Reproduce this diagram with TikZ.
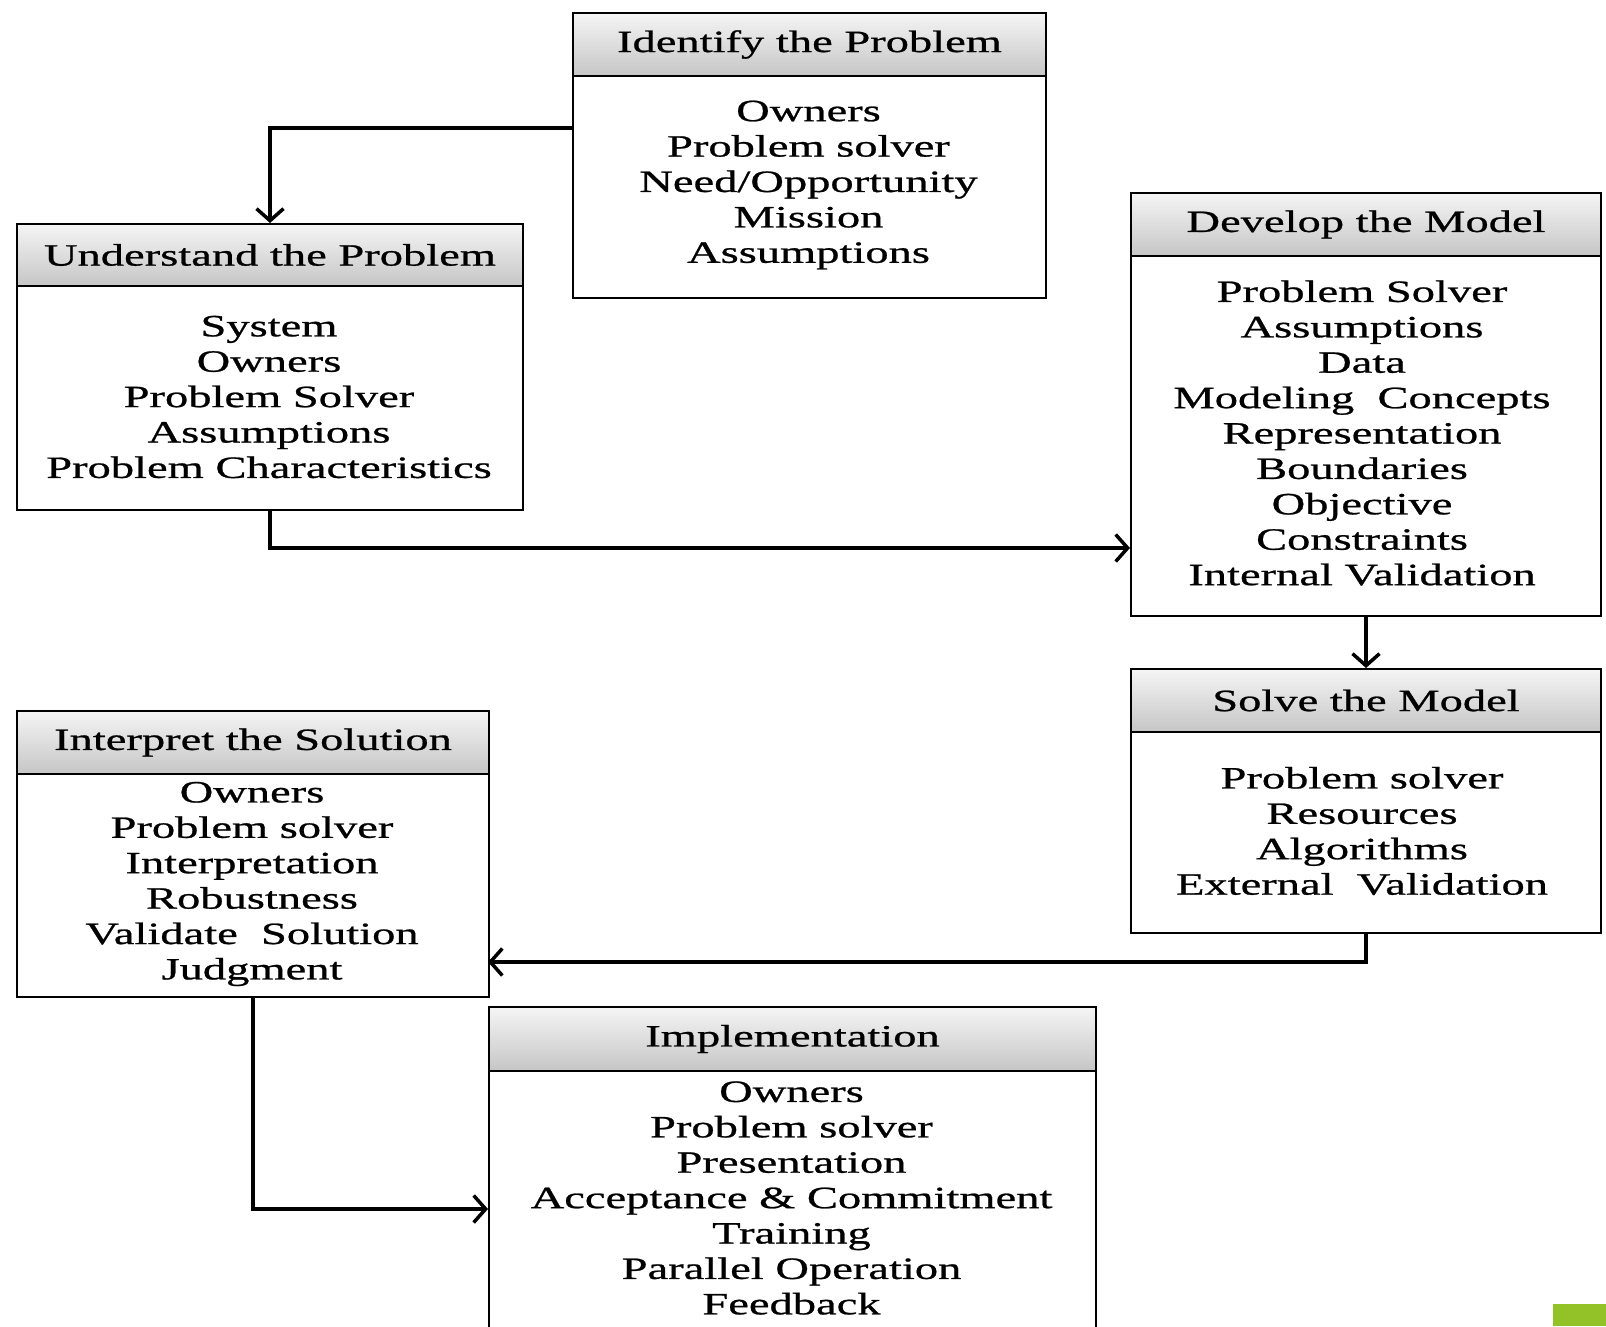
\documentclass[tikz,border=0pt]{standalone}
\usepackage{fontspec}
\setmainfont{Liberation Serif}[FakeStretch=1.5,FakeBold=0.8]
\usetikzlibrary{arrows.meta,calc}
\definecolor{accent}{RGB}{146,193,40}
\newcommand{\fsz}{\fontsize{31}{35.4}\selectfont}
\begin{document}
\begin{tikzpicture}[x=1pt,y=-1pt,
  box/.style={draw, line width=2pt, fill=white, inner sep=0pt, anchor=north west},
  hdr/.style={draw, line width=2pt, top color=gray!8, bottom color=gray!45, inner sep=0pt, anchor=north west, font=\fsz},
  bodytext/.style={align=center, inner sep=0pt, font=\fsz, anchor=center},
  arr/.style={line width=4.5pt, -{Straight Barb[length=12pt,width=27pt,line width=3.5pt]}}]
\path[use as bounding box] (0,0) rectangle (1606,1326);
\begin{scope}
\clip (0,0) rectangle (1606,1326);
% Identify
\node[box, minimum width=473pt, minimum height=285pt] (idp) at (572,12) {};
\node[hdr, minimum width=473pt, minimum height=63pt] (idp-h) at (572,12) {Identify the Problem};
\node[bodytext] (idp-t) at (808.5,185) {Owners\\Problem solver\\Need/Opportunity\\Mission\\Assumptions};
% Understand
\node[box, minimum width=506pt, minimum height=286pt] (und) at (16,223) {};
\node[hdr, minimum width=506pt, minimum height=62pt] (und-h) at (16,223) {Understand the Problem};
\node[bodytext] (und-t) at (269,397) {System\\Owners\\Problem Solver\\Assumptions\\Problem Characteristics};
% Develop
\node[box, minimum width=470pt, minimum height=423pt] (dev) at (1130,192) {};
\node[hdr, minimum width=470pt, minimum height=63pt] (dev-h) at (1130,192) {Develop the Model};
\node[bodytext] (dev-t) at (1362,433) {Problem Solver\\Assumptions\\Data\\Modeling\ \ Concepts\\Representation\\Boundaries\\Objective\\Constraints\\Internal Validation};
% Solve
\node[box, minimum width=470pt, minimum height=264pt] (sol) at (1130,668) {};
\node[hdr, minimum width=470pt, minimum height=63pt] (sol-h) at (1130,668) {Solve the Model};
\node[bodytext] (sol-t) at (1362,831) {Problem solver\\Resources\\Algorithms\\External\ \ Validation};
% Interpret
\node[box, minimum width=472pt, minimum height=286pt] (int) at (16,710) {};
\node[hdr, minimum width=472pt, minimum height=63pt] (int-h) at (16,710) {Interpret the Solution};
\node[bodytext] (int-t) at (252,884) {Owners\\Problem solver\\Interpretation\\Robustness\\Validate\ \ Solution\\Judgment};
% Implementation
\node[box, minimum width=607pt, minimum height=340pt] (imp) at (488,1006) {};
\node[hdr, minimum width=607pt, minimum height=64pt] (imp-h) at (488,1006) {Implementation};
\node[bodytext] (imp-t) at (791.5,1198) {Owners\\Problem solver\\Presentation\\Acceptance \& Commitment\\Training\\Parallel Operation\\Feedback};
% connectors
\coordinate (c1) at (572,128);
\coordinate (c2) at (1130,548);
\coordinate (c3) at (488,962);
\coordinate (c4) at (488,1209);
\draw[arr] (c1) -| (und.north);
\draw[arr] (und.south) |- (c2);
\draw[arr] (dev.south) -- (sol.north);
\draw[arr] (sol.south) |- (c3);
\draw[arr] (int.south) |- (c4);
% accent square
\fill[accent] (1553,1304) rectangle (1606,1326);
\end{scope}
\end{tikzpicture}
\end{document}
